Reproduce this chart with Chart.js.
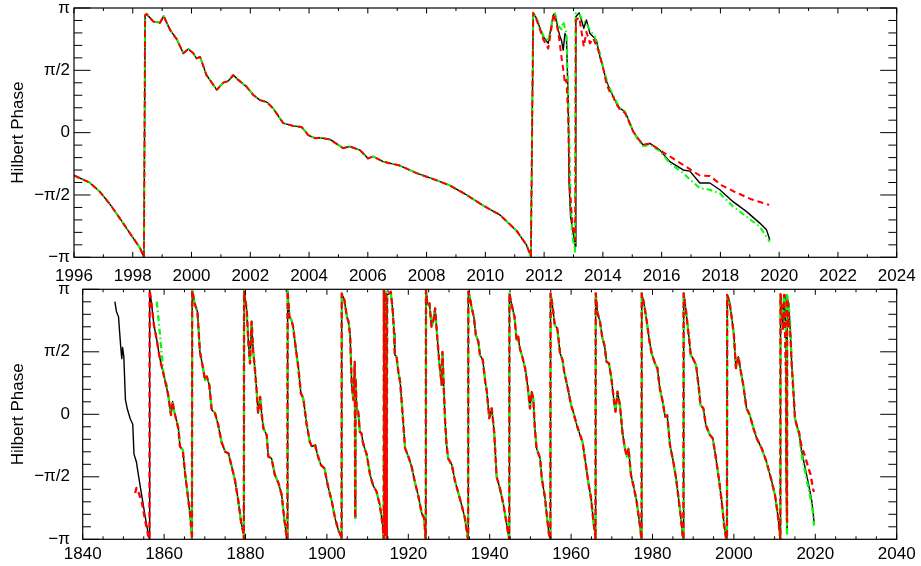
<!DOCTYPE html>
<html><head><meta charset="utf-8">
<script src="https://cdn.jsdelivr.net/npm/chart.js@4.4.1/dist/chart.umd.min.js"></script>
<style>
html,body{margin:0;padding:0;background:#fff;}
#wrap{position:relative;width:921px;height:566px;background:#fff;}
canvas{position:absolute;left:0;top:0;}
</style></head><body>
<div id="wrap"><canvas id="c1" width="921" height="566"></canvas><canvas id="c2" width="921" height="566"></canvas></div>
<script>
// ---------------- DATA (Hilbert phase, radians) ----------------
const yTickValues = [-Math.PI, -Math.PI / 2, 0, Math.PI / 2, Math.PI];
const yTickLabels = ['\u2212\u03c0', '\u2212\u03c0/2', '0', '\u03c0/2', '\u03c0'];

// Top panel: common part of the three curves (1996 - 2011.5)
const topSharedYears = [1996.0, 1996.54, 1996.88, 1997.22, 1997.56, 1997.9, 1998.25, 1998.38, 1998.42, 1998.47, 1998.7, 1998.93, 1999.05, 1999.27, 1999.5, 1999.72, 1999.89, 2000.06, 2000.17, 2000.29, 2000.51, 2000.86, 2001.08, 2001.25, 2001.42, 2001.59, 2001.87, 2002.1, 2002.33, 2002.56, 2002.78, 2003.12, 2003.46, 2003.75, 2003.97, 2004.2, 2004.37, 2004.71, 2005.16, 2005.39, 2005.73, 2006.01, 2006.18, 2006.52, 2007.09, 2007.66, 2008.23, 2008.79, 2009.36, 2009.93, 2010.49, 2011.06, 2011.4, 2011.55];
const topSharedPhase = [-1.08, -1.26, -1.49, -1.80, -2.16, -2.53, -2.91, -3.14, 2.96, 2.99, 2.80, 2.77, 2.94, 2.59, 2.35, 2.00, 2.11, 2.00, 1.87, 1.91, 1.45, 1.08, 1.26, 1.30, 1.45, 1.33, 1.16, 0.95, 0.82, 0.77, 0.61, 0.24, 0.17, 0.14, -0.06, -0.14, -0.13, -0.17, -0.39, -0.35, -0.44, -0.65, -0.60, -0.73, -0.83, -1.02, -1.17, -1.33, -1.57, -1.84, -2.07, -2.47, -2.83, -3.12];

// Top panel tails (2011.6 - 2019.7)
const topBlackTailYears = [2011.63, 2011.74, 2011.86, 2011.97, 2012.14, 2012.2, 2012.31, 2012.37, 2012.48, 2012.54, 2012.59, 2012.65, 2012.71, 2012.76, 2012.82, 2012.85, 2012.9, 2012.97, 2013.02, 2013.06, 2013.08, 2013.19, 2013.27, 2013.35, 2013.44, 2013.56, 2013.67, 2013.78, 2013.9, 2014.01, 2014.12, 2014.24, 2014.35, 2014.46, 2014.58, 2014.75, 2014.92, 2015.03, 2015.2, 2015.37, 2015.6, 2015.94, 2016.28, 2016.73, 2016.96, 2017.3, 2017.64, 2017.98, 2018.43, 2018.89, 2019.34, 2019.57, 2019.68];
const topBlackTailPhase = [3.02, 2.88, 2.63, 2.42, 2.25, 2.50, 2.96, 3.01, 2.59, 2.42, 2.33, 2.08, 2.50, 2.42, 0.82, -1.28, -2.12, -2.45, -2.66, -2.87, 2.92, 3.02, 2.84, 2.63, 2.84, 2.50, 2.42, 2.33, 1.91, 1.62, 1.30, 1.08, 0.91, 0.74, 0.61, 0.53, 0.24, 0.03, -0.15, -0.31, -0.27, -0.44, -0.73, -0.94, -0.97, -1.27, -1.27, -1.44, -1.74, -1.99, -2.28, -2.45, -2.70];

const topRedTailYears = [2011.63, 2011.74, 2011.86, 2011.97, 2012.14, 2012.22, 2012.33, 2012.48, 2012.59, 2012.65, 2012.71, 2012.76, 2012.82, 2012.86, 2012.97, 2013.02, 2013.06, 2013.08, 2013.2, 2013.35, 2013.44, 2013.56, 2013.67, 2013.84, 2013.95, 2014.05, 2014.12, 2014.24, 2014.35, 2014.46, 2014.58, 2014.75, 2014.92, 2015.03, 2015.2, 2015.37, 2015.6, 2015.94, 2016.28, 2016.73, 2017.3, 2017.64, 2018.03, 2018.48, 2019.05, 2019.66];
const topRedTailPhase = [3.02, 2.85, 2.60, 2.35, 2.12, 2.50, 3.00, 2.55, 1.91, 1.60, 1.24, 1.33, 0.40, -1.28, -2.37, -2.50, -2.70, 2.84, 2.90, 2.17, 2.54, 2.25, 2.38, 2.08, 1.80, 1.50, 1.22, 1.02, 0.90, 0.72, 0.58, 0.50, 0.22, 0.03, -0.15, -0.31, -0.27, -0.44, -0.60, -0.81, -1.08, -1.09, -1.32, -1.49, -1.68, -1.82];

const topGreenTailYears = [2011.63, 2011.74, 2011.86, 2011.97, 2012.14, 2012.2, 2012.31, 2012.37, 2012.48, 2012.59, 2012.65, 2012.76, 2012.84, 2012.9, 2012.96, 2013.03, 2013.05, 2013.07, 2013.2, 2013.3, 2013.44, 2013.56, 2013.72, 2013.9, 2014.01, 2014.12, 2014.24, 2014.35, 2014.46, 2014.58, 2014.75, 2014.92, 2015.03, 2015.2, 2015.37, 2015.6, 2015.94, 2016.28, 2016.73, 2017.3, 2017.64, 2017.98, 2018.43, 2018.89, 2019.34, 2019.68];
const topGreenTailPhase = [3.02, 2.90, 2.66, 2.45, 2.30, 2.52, 2.96, 3.00, 2.70, 2.60, 2.80, 2.50, 0.40, -1.70, -2.62, -2.87, -3.00, 3.00, 3.00, 2.84, 2.75, 2.59, 2.42, 2.00, 1.65, 1.35, 1.10, 0.95, 0.78, 0.62, 0.53, 0.24, 0.03, -0.18, -0.34, -0.30, -0.47, -0.77, -1.02, -1.40, -1.44, -1.53, -1.86, -2.12, -2.37, -2.75];

// Bottom panel: individual starts
const botBlackHeadYears = [1847.9, 1848.3, 1848.8, 1849.3, 1849.6, 1849.8, 1850.1, 1850.5, 1851.0, 1851.7, 1852.3, 1852.6, 1853.2, 1853.8, 1854.6, 1855.4, 1856.1, 1856.4];
const botBlackHeadPhase = [2.83, 2.58, 2.45, 1.75, 1.40, 1.68, 1.45, 0.36, 0.12, -0.12, -0.25, -1.00, -1.20, -1.60, -2.10, -2.60, -3.00, -3.14];
const botRedHeadYears = [1852.9, 1853.2, 1853.6, 1854.5, 1855.4, 1856.1, 1856.4];
const botRedHeadPhase = [-1.98, -1.85, -1.93, -2.19, -2.70, -3.05, -3.14];
const botEarlyYears = [1856.45, 1856.95, 1857.5, 1858.2, 1858.8, 1859.4, 1860.2];
const botEarlyPhase = [3.12, 2.75, 2.24, 1.87, 1.49, 1.20, 0.86];
const botGreenHeadYears = [1858.2, 1858.6, 1859.0, 1859.8, 1860.6];
const botGreenHeadPhase = [2.83, 2.41, 1.99, 1.07, 0.74];

// Bottom panel: common part (1861 - 2011.4)
const botSharedYears = [
 1861.0, 1861.7, 1862.1, 1862.4, 1862.9, 1863.5, 1863.9, 1864.6, 1865.1, 1865.7, 1866.4, 1866.8, 1866.85,
 1866.9, 1867.6, 1868.2, 1868.8, 1869.5, 1870.05, 1870.5, 1871.1, 1871.7, 1872.5, 1873.3, 1874.1, 1875.0, 1875.8, 1876.6, 1877.4, 1878.2, 1878.9, 1879.5, 1879.6,
 1879.65, 1880.3, 1880.7, 1881.1, 1881.5, 1881.9, 1882.3, 1882.7, 1883.1, 1883.6, 1884.0, 1884.4, 1885.2, 1885.6, 1886.4, 1887.2, 1888.1, 1888.9, 1889.5, 1890.1, 1890.3,
 1890.35, 1890.8, 1891.3, 1891.7, 1892.2, 1893.0, 1893.6, 1894.2, 1895.0, 1895.8, 1896.3, 1897.1, 1897.7, 1898.5, 1899.4, 1900.2, 1901.2, 1902.0, 1902.8, 1903.5, 1903.6,
 1903.65, 1904.3, 1904.9, 1905.3, 1905.7, 1906.1, 1906.5, 1906.85, 1906.95, 1907.05, 1907.3, 1907.7, 1908.1, 1908.5, 1908.9, 1909.8, 1910.6, 1911.4, 1912.2, 1913.0, 1913.7, 1913.95,
 1914.0, 1914.25, 1914.45, 1914.7, 1914.8, 1915.3, 1915.7, 1916.2, 1916.5, 1916.7, 1917.1, 1917.6, 1918.0, 1918.4, 1918.8, 1919.2, 1920.0, 1920.8, 1921.6, 1922.5, 1923.3, 1923.9, 1924.2, 1924.3,
 1924.35, 1924.7, 1925.2, 1925.7, 1926.1, 1926.6, 1927.0, 1927.6, 1928.2, 1928.4, 1929.0, 1929.4, 1929.8, 1930.7, 1931.5, 1932.3, 1933.1, 1933.9, 1934.5, 1934.7,
 1934.75, 1935.2, 1935.6, 1936.1, 1936.6, 1937.2, 1937.6, 1938.3, 1938.9, 1939.3, 1939.9, 1940.5, 1941.1, 1941.7, 1942.5, 1943.4, 1944.2, 1944.6, 1944.8,
 1944.85, 1945.4, 1946.1, 1946.6, 1947.0, 1947.4, 1948.0, 1948.7, 1949.3, 1949.9, 1950.3, 1950.7, 1951.1, 1951.5, 1952.4, 1952.8, 1953.6, 1954.2, 1954.6, 1954.9,
 1954.95, 1955.4, 1956.0, 1956.6, 1957.3, 1957.9, 1958.3, 1959.2, 1960.0, 1960.5, 1961.4, 1962.2, 1962.8, 1963.4, 1964.2, 1964.9, 1965.5, 1965.9, 1966.0,
 1966.05, 1966.5, 1967.1, 1967.7, 1968.2, 1968.7, 1969.3, 1969.9, 1970.6, 1970.9, 1971.4, 1972.0, 1972.6, 1973.2, 1973.7, 1974.1, 1974.7, 1975.3, 1976.1, 1976.9, 1977.3,
 1977.35, 1977.9, 1978.6, 1979.2, 1979.8, 1980.6, 1981.2, 1981.8, 1982.5, 1983.1, 1983.6, 1984.3, 1985.1, 1985.8, 1986.3, 1986.9, 1987.4, 1987.6,
 1987.65, 1988.2, 1988.8, 1989.4, 1989.9, 1990.7, 1991.3, 1991.8, 1992.5, 1993.1, 1994.1, 1994.8, 1995.6, 1996.4, 1997.0, 1997.6, 1998.0, 1998.3,
 1998.35, 1998.9, 1999.5, 2000.0, 2000.5, 2001.1, 2001.7, 2002.3, 2003.1, 2003.9, 2004.8, 2005.6, 2006.8, 2008.0, 2009.3, 2010.1, 2010.9, 2011.4];
const botSharedPhase = [
 0.49, -0.02, 0.32, 0.11, -0.10, -0.35, -0.81, -0.90, -1.44, -1.94, -2.53, -3.03, -3.14,
 3.12, 2.75, 2.58, 1.57, 1.20, 0.86, 0.95, 0.74, 0.11, 0.03, -0.27, -0.69, -0.94, -0.98, -1.31, -1.65, -2.15, -2.70, -2.99, -3.14,
 3.10, 2.62, 1.83, 1.28, 2.33, 1.57, 1.16, 0.65, 0.03, 0.44, -0.02, -0.35, -0.52, -1.06, -1.11, -1.52, -1.73, -2.03, -2.61, -3.07, -3.14,
 3.10, 2.45, 2.37, 2.20, 1.78, 1.16, 0.53, 0.40, -0.23, -0.69, -0.81, -0.77, -1.02, -1.27, -1.36, -1.78, -2.19, -2.61, -2.91, -3.07, -3.14,
 3.04, 2.87, 2.45, 2.33, 1.99, 0.74, 0.36, 1.32, -2.61, 0.90, 0.15, 0.07, -0.44, -0.48, -0.73, -1.02, -1.52, -1.80, -1.94, -2.28, -2.78, -3.14,
 3.12, -3.03, 3.08, -3.12, 3.00, 3.04, 3.08, 2.58, 2.04, 1.49, 1.45, 1.03, 0.82, 0.28, -0.27, -0.85, -1.06, -1.31, -1.69, -2.07, -2.49, -2.61, -3.07, -3.14,
 3.12, 2.75, 2.79, 2.20, 2.33, 2.66, 2.08, 1.32, 0.74, 1.57, -0.10, -0.77, -1.11, -1.27, -1.69, -1.98, -2.28, -2.61, -3.03, -3.14,
 3.08, 2.91, 2.66, 2.45, 1.99, 1.83, 1.49, 1.37, 0.82, 0.57, -0.10, 0.15, -0.44, -1.57, -1.86, -2.28, -2.78, -3.03, -3.14,
 3.04, 2.75, 2.45, 1.87, 1.95, 1.66, 1.45, 1.16, 0.74, 0.15, 0.57, 0.40, -0.35, -0.85, -1.11, -1.61, -2.11, -2.70, -3.03, -3.14,
 3.04, 2.75, 2.24, 2.16, 1.53, 1.37, 1.07, 0.65, 0.23, 0.07, -0.27, -0.52, -0.69, -1.11, -1.69, -2.11, -2.70, -3.03, -3.14,
 3.04, 2.54, 2.33, 1.91, 1.74, 1.32, 1.28, 0.90, 0.28, 0.07, 0.57, 0.23, -0.44, -0.85, -1.06, -0.85, -1.52, -1.78, -2.19, -2.78, -3.14,
 3.04, 2.79, 2.33, 1.87, 1.53, 1.28, 1.16, 0.65, 0.32, -0.06, -0.02, -0.77, -1.19, -1.61, -2.03, -2.53, -3.03, -3.14,
 3.04, 2.62, 2.08, 1.49, 1.41, 1.24, 0.74, 0.23, 0.15, -0.27, -0.52, -0.60, -1.11, -1.69, -2.19, -2.78, -3.07, -3.14,
 3.00, 2.83, 2.41, 1.99, 1.16, 1.45, 1.07, 0.74, 0.15, -0.02, -0.35, -0.60, -0.85, -1.19, -1.69, -2.03, -2.61, -3.14];

// Bottom panel tails (2011.4 - 2019.7)
const botBlackTailYears = [2011.45, 2011.8, 2012.0, 2012.2, 2012.35, 2012.55, 2012.7, 2012.8, 2012.85, 2013.0, 2013.05, 2013.08, 2013.3, 2013.5, 2013.8, 2014.2, 2014.6, 2015.0, 2015.5, 2016.0, 2016.6, 2017.5, 2018.3, 2019.1, 2019.5, 2019.7];
const botBlackTailPhase = [3.02, 2.70, 2.30, 2.55, 3.00, 2.40, 2.30, 2.50, -1.30, -2.70, -2.87, 2.95, 2.80, 2.70, 2.20, 1.28, 0.61, -0.10, -0.30, -0.45, -0.90, -1.35, -1.73, -2.15, -2.50, -2.74];
const botRedTailYears = [2011.45, 2011.8, 2012.0, 2012.15, 2012.35, 2012.55, 2012.65, 2012.72, 2012.8, 2012.86, 2013.0, 2013.06, 2013.08, 2013.2, 2013.35, 2013.45, 2013.6, 2013.85, 2014.2, 2014.6, 2015.0, 2015.5, 2016.0, 2016.6, 2017.5, 2018.3, 2018.8, 2019.5, 2019.7];
const botRedTailPhase = [3.02, 2.65, 2.20, 2.10, 3.00, 2.20, 1.60, 1.24, 1.30, -1.30, -2.40, -2.70, 2.85, 2.90, 2.17, 2.55, 2.25, 2.05, 1.25, 0.60, -0.10, -0.30, -0.45, -0.80, -1.06, -1.35, -1.50, -1.90, -1.95];
const botGreenTailYears = [2011.45, 2011.8, 2012.0, 2012.2, 2012.35, 2012.55, 2012.65, 2012.76, 2012.85, 2012.92, 2013.03, 2013.05, 2013.07, 2013.3, 2013.5, 2013.75, 2014.2, 2014.6, 2015.0, 2015.5, 2016.0, 2016.6, 2017.5, 2018.3, 2019.1, 2019.5, 2019.7];
const botGreenTailPhase = [3.02, 2.75, 2.40, 2.55, 3.00, 2.65, 2.85, 2.50, 0.40, -1.70, -2.87, -3.00, 3.00, 2.85, 2.70, 2.40, 1.35, 0.65, -0.10, -0.33, -0.48, -1.00, -1.45, -1.85, -2.25, -2.55, -2.80];

// ---------------- BUILD ----------------
const FONT = '"Liberation Sans", Arial, Helvetica, sans-serif';
const pts = (xs, ys) => xs.map((x, i) => ({ x: x, y: ys[i] }));

const topBlack = pts([...topSharedYears, ...topBlackTailYears], [...topSharedPhase, ...topBlackTailPhase]);
const topRed = pts([...topSharedYears, ...topRedTailYears], [...topSharedPhase, ...topRedTailPhase]);
const topGreen = pts([...topSharedYears, ...topGreenTailYears], [...topSharedPhase, ...topGreenTailPhase]);

const botBlack = pts([...botBlackHeadYears, ...botEarlyYears, ...botSharedYears, ...botBlackTailYears],
                     [...botBlackHeadPhase, ...botEarlyPhase, ...botSharedPhase, ...botBlackTailPhase]);
const botRed = pts([...botRedHeadYears, ...botEarlyYears, ...botSharedYears, ...botRedTailYears],
                   [...botRedHeadPhase, ...botEarlyPhase, ...botSharedPhase, ...botRedTailPhase]);
const botGreen = pts([...botGreenHeadYears, ...botSharedYears, ...botGreenTailYears],
                     [...botGreenHeadPhase, ...botSharedPhase, ...botGreenTailPhase]);

function lineDs(label, data, color, width, dash) {
  return { label, data, borderColor: color, backgroundColor: color, borderWidth: width, borderDash: dash,
           pointRadius: 0, tension: 0, fill: false, borderCapStyle: 'butt', borderJoinStyle: 'round' };
}
function seriesSet(black, red, green, w) {
  // first dataset is drawn on top
  return [
    lineDs('red', red, '#ff0000', w, [6, 4]),
    lineDs('green', green, '#00ff00', w, [6, 3, 1.5, 3]),
    lineDs('black', black, '#000000', 1.4, [])
  ];
}

const framePlugin = {
  id: 'frame',
  afterDraw(chart) {
    const o = chart.options.plugins.frame;
    const { ctx, chartArea: a, scales: { x, y } } = chart;
    ctx.save();
    ctx.strokeStyle = '#000';
    ctx.lineWidth = 1.2;
    ctx.strokeRect(a.left, a.top, a.right - a.left, a.bottom - a.top);
    ctx.lineWidth = 1;
    ctx.beginPath();
    const nx = Math.round((x.max - x.min) / o.xMinor);
    for (let i = 0; i <= nx; i++) {
      const v = x.min + i * o.xMinor;
      const major = i % o.xPerMajor === 0;
      const len = major ? o.xMajLen : o.xMinLen;
      const px = x.getPixelForValue(v);
      ctx.moveTo(px, a.bottom); ctx.lineTo(px, a.bottom - len);
      ctx.moveTo(px, a.top); ctx.lineTo(px, a.top + len);
    }
    for (let k = -10; k <= 10; k++) {
      const v = k * Math.PI / 10;
      const major = k % 5 === 0;
      const len = major ? o.yMajLen : o.yMinLen;
      const py = y.getPixelForValue(v);
      ctx.moveTo(a.left, py); ctx.lineTo(a.left + len, py);
      ctx.moveTo(a.right, py); ctx.lineTo(a.right - len, py);
    }
    ctx.stroke();
    ctx.restore();
  }
};

function makeChart(id, datasets, xr, box) {
  return new Chart(document.getElementById(id), {
    type: 'line',
    data: { datasets },
    options: {
      responsive: false, animation: false, events: [],
      layout: { padding: { left: 0, top: box.top, right: 921 - box.right, bottom: 566 - box.bottom - box.xAxisH } },
      plugins: {
        legend: { display: false }, tooltip: { enabled: false },
        frame: { xMinor: xr.minor, xPerMajor: xr.perMajor, xMajLen: 5.5, xMinLen: 3, yMajLen: 16.5, yMinLen: 8.3 }
      },
      scales: {
        x: {
          type: 'linear', min: xr.min, max: xr.max,
          grid: { display: false, drawTicks: false }, border: { display: false },
          ticks: { stepSize: xr.step, autoSkip: false, maxRotation: 0, padding: box.xPad, color: '#000',
                   font: { family: FONT, size: 17 }, callback: v => String(v) },
          afterFit: s => { s.height = box.xAxisH; s.paddingLeft = 0; s.paddingRight = 0; }
        },
        y: {
          type: 'linear', min: -Math.PI, max: Math.PI,
          grid: { display: false, drawTicks: false }, border: { display: false },
          afterBuildTicks: s => { s.ticks = yTickValues.map(v => ({ value: v })); },
          ticks: { padding: box.yPad, color: '#000', font: { family: FONT, size: 17 },
                   callback: (v, i) => yTickLabels[i] },
          title: { display: true, text: 'Hilbert Phase', color: '#000', font: { family: FONT, size: 17 },
                   padding: { top: 8, bottom: 0 } },
          afterFit: s => { s.width = box.left; s.paddingTop = 0; s.paddingBottom = 0; }
        }
      }
    },
    plugins: [framePlugin]
  });
}

makeChart('c1', seriesSet(topBlack, topRed, topGreen, 2),
  { min: 1996, max: 2024, step: 2, minor: 1, perMajor: 2 },
  { left: 74, top: 8, right: 896.7, bottom: 257.3, xAxisH: 26, xPad: 9, yPad: 4 });

makeChart('c2', seriesSet(botBlack, botRed, botGreen, 2.3),
  { min: 1840, max: 2040, step: 20, minor: 5, perMajor: 4 },
  { left: 82.7, top: 289.3, right: 896.7, bottom: 539.3, xAxisH: 26, xPad: 5, yPad: 12.7 });
</script>
</body></html>
